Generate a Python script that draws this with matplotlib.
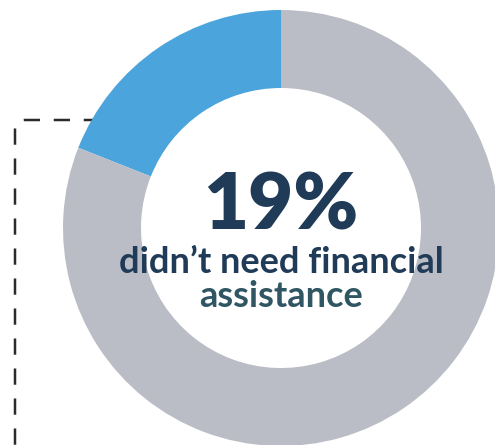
import matplotlib
matplotlib.use("Agg")
from matplotlib import pyplot as plt
from matplotlib.path import Path
from matplotlib.patches import PathPatch

# share of respondents
labels = ["didn't need financial assistance", "other"]
shares = [19, 81]
colors = ["#4ba4db", "#babdc5"]

big_label = "19%"
line1 = "didn’t need financial"
line2 = "assistance"

fig = plt.figure(figsize=(4.95, 4.45), dpi=100)
ax = fig.add_axes([0, 0, 1, 1])

# donut, centre and radius in pixel units (y up)
cx, cy = 281, 217
R = 218
ring = 78
ax.pie(shares, colors=colors, startangle=90, counterclock=True,
       radius=R, center=(cx, cy),
       wedgeprops=dict(width=ring, linewidth=0, zorder=3))

# dashed bracket running off the left of the ring
verts = [(100, 325), (24, 325), (15, 325), (15, 316), (15, -5)]
codes = [Path.MOVETO, Path.LINETO, Path.CURVE3, Path.CURVE3, Path.LINETO]
bracket = PathPatch(Path(verts, codes), fill=False, edgecolor="#2b2b2b",
                    lw=1.8, linestyle=(0, (6.5, 5.5)), capstyle="butt", zorder=1)
ax.add_patch(bracket)

ax.text(cx, 215, big_label, ha="center", va="baseline", fontsize=56,
        fontweight="heavy", family="Lato", color="#1f3b57", zorder=4)
ax.text(cx, 172, line1, ha="center", va="baseline", fontsize=26,
        fontweight="bold", family="Lato", color="#1f3b57", zorder=4)
ax.text(cx, 138, line2, ha="center", va="baseline", fontsize=26,
        fontweight="bold", family="Lato", color="#2f5662", zorder=4)

ax.set_xlim(0, 495)
ax.set_ylim(0, 445)
ax.set_aspect("equal")
ax.axis("off")

fig.savefig("out.png", dpi=100, facecolor="white")
